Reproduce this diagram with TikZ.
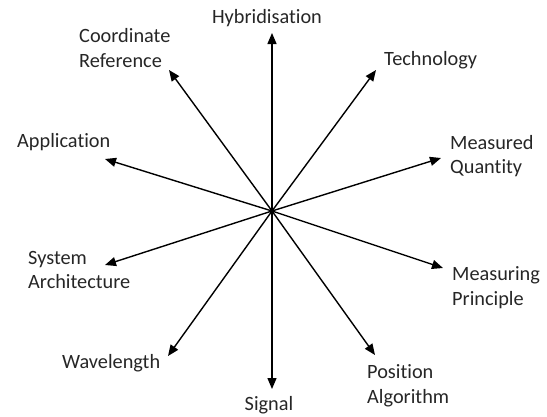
\documentclass[tikz,border=0pt]{standalone}
\usepackage{fontspec}
\setmainfont{Carlito}[Ligatures=CommonOff]
\usetikzlibrary{arrows.meta}
\begin{document}
\begin{tikzpicture}[x=1pt,y=-1pt,
  lbl/.style={inner sep=0pt,align=left,font=\fontsize{20.3}{24.8}\selectfont,text=black!85},
  spoke/.style={line width=1.4pt,-{Triangle[length=11pt,width=9pt]}}]
\useasboundingbox (0,0) rectangle (547,416);
\coordinate (c) at (272,211);
% tips
\coordinate (tHyb) at (272,33);
\coordinate (tTech) at (376,70);
\coordinate (tMQ) at (441,158);
\coordinate (tMP) at (443,268);
\coordinate (tPA) at (375,355);
\coordinate (tSig) at (272,389);
\coordinate (tWave) at (168,356);
\coordinate (tSA) at (105,265);
\coordinate (tApp) at (105,159);
\coordinate (tCR) at (169,70);
% labels
\node[lbl] (Hyb) at (267,18) {Hybridisation};
\node[lbl,anchor=west] (Tech) at (384,60) {Technology};
\node[lbl,anchor=west] (MQ) at (450,156) {Measured\\Quantity};
\node[lbl,anchor=west] (MP) at (452,288) {Measuring\\Principle};
\node[lbl,anchor=west] (PA) at (367,386) {Position\\Algorithm};
\node[lbl] (Sig) at (269,405) {Signal};
\node[lbl,anchor=west] (Wave) at (62,363) {Wavelength};
\node[lbl,anchor=west] (SA) at (28,270) {System\\Architecture};
\node[lbl,anchor=west] (App) at (17,142) {Application};
\node[lbl,anchor=west] (CR) at (79,48) {Coordinate\\Reference};
% spokes
\foreach \t in {tHyb,tTech,tMQ,tMP,tPA,tSig,tWave,tSA,tApp,tCR}
  \draw[spoke] (c) -- (\t);
\end{tikzpicture}
\end{document}
